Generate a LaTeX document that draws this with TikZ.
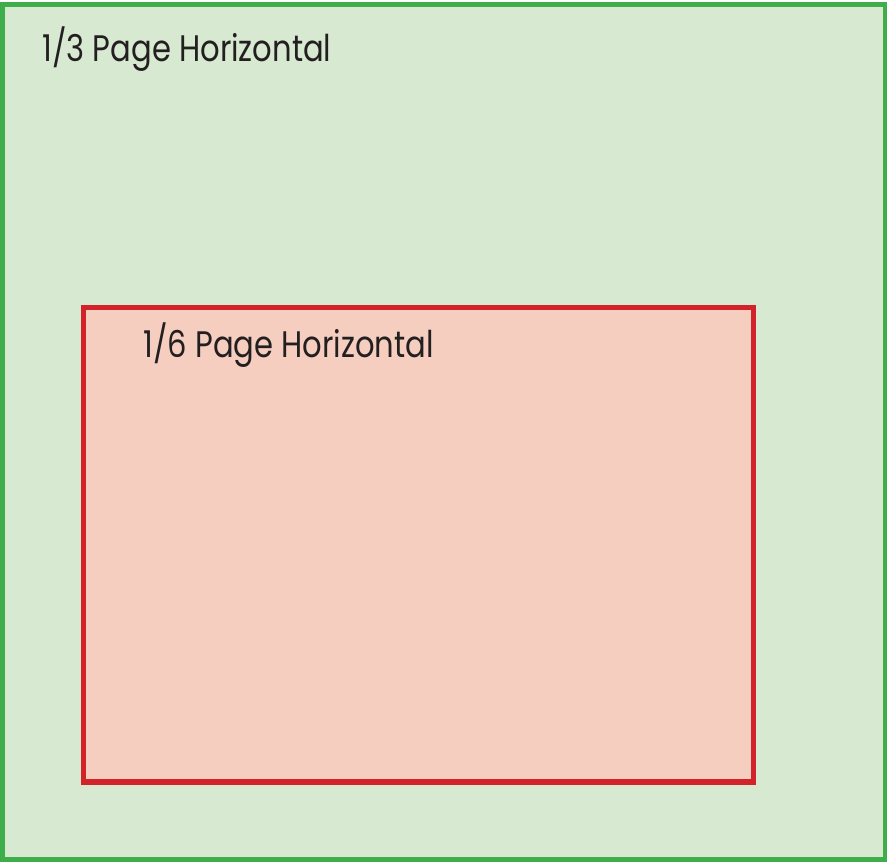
\documentclass[tikz,border=0pt]{standalone}
\usepackage{fontspec}
\setmainfont[FakeStretch=0.83]{Poppins}
\definecolor{thirdfill}{HTML}{D8E9D2}
\definecolor{thirdline}{HTML}{3DAE49}
\definecolor{sixthfill}{HTML}{F5CEBF}
\definecolor{sixthline}{HTML}{D2232A}
\definecolor{labtext}{HTML}{231F20}
\begin{document}
\begin{tikzpicture}[
    panel/.style={line width=0.1cm},
    lab/.style={anchor=base west, inner sep=0pt, text=labtext,
      font=\fontsize{21}{24}\selectfont}]

  \useasboundingbox (0,0) rectangle (17.74,17.22);

% ---------------- the 1/3 page area
  \draw[panel, draw=thirdline, fill=thirdfill] (0.05,0.04) rectangle (17.70,17.13);
  \node[lab] (third) at (0.84,15.98) {1/3 Page Horizontal};

% ---------------- the 1/6 page area, inside it
  \draw[panel, draw=sixthline, fill=sixthfill] (1.67,1.58) rectangle (15.07,11.07);
  \node[lab] (sixth) at (2.86,10.06) {1/6 Page Horizontal};
\end{tikzpicture}
\end{document}
